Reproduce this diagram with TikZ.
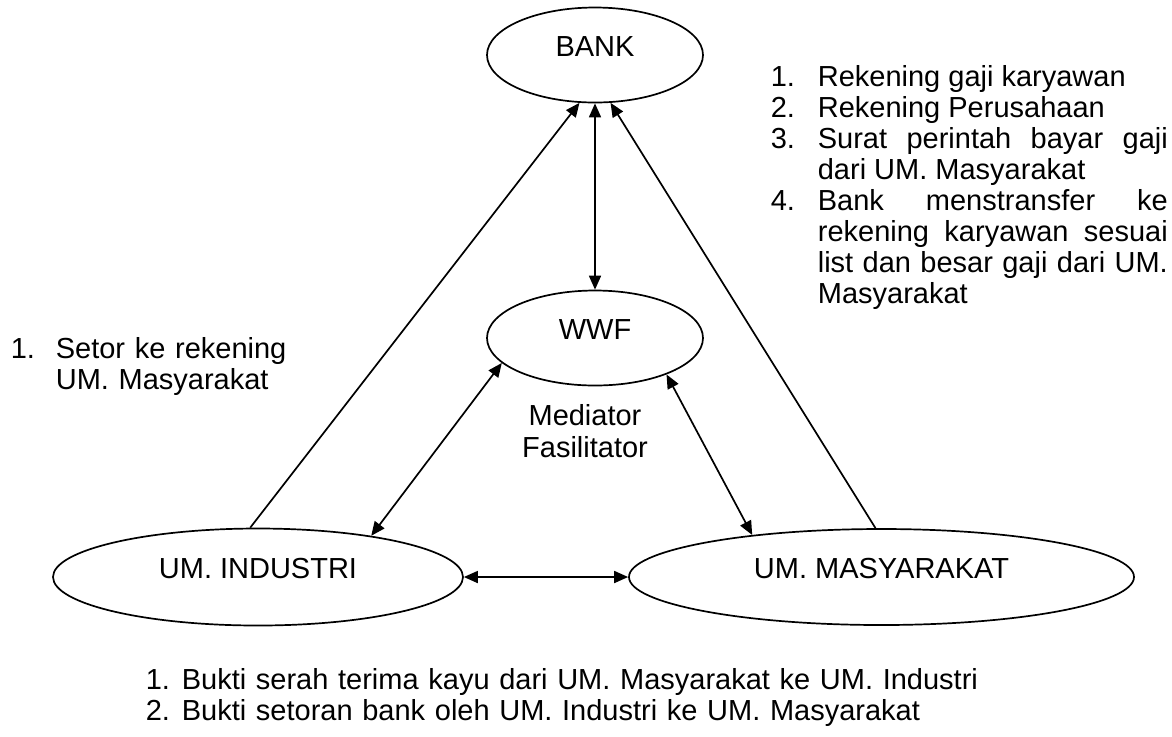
\documentclass[tikz,border=0pt]{standalone}
\usepackage{fontspec}
\setmainfont{Liberation Sans}
\usetikzlibrary{shapes.geometric,arrows.meta}
\newlength{\numwidth}
\newcommand{\numitem}[2]{\par\noindent\hangindent=\numwidth\hangafter=0
	\llap{\makebox[\numwidth][l]{#1}}#2\par}

\begin{document}
\begin{tikzpicture}[x=0.5pt,y=-0.5pt,line width=0.85pt,>={Triangle[length=7pt,width=6pt]},
	font={\fontsize{14.5pt}{16pt}\selectfont}]
	\tikzset{party/.style 2 args={draw,ellipse,inner sep=0pt,minimum width=#1,minimum height=#2,text height=5pt,text depth=4pt},
		note/.style={inner sep=0pt,anchor=north west,font={\fontsize{14.5pt}{15.5pt}\selectfont}}};
	\useasboundingbox (0,0) rectangle (1172,736);
	
	\node[party={108pt}{47.5pt}] (bank) at (595,55) {BANK};
	\node[party={108pt}{47.5pt}] (wwf) at (595,338) {WWF};
	\node[party={205pt}{48.5pt}] (ind) at (258,577) {UM. INDUSTRI};
	\node[party={252.5pt}{48pt}] (masy) at (881.5,577) {UM. MASYARAKAT};
	
	\draw[->] (ind.99)--(bank.252);
	\draw[<->] (bank.south)--(wwf.north);
	\draw[->] (masy.97)--(bank.-72);
	\draw[<->] (wwf.195)--(ind.20);
	\draw[<->] (wwf.-27)--(masy.162);
	\draw[<->] (ind.east)--(masy.west);
	
	\node[note,anchor=north,align=center,font={\fontsize{14.5pt}{16pt}\selectfont}] (med) at (585,404) {Mediator\\Fasilitator};
	
	\node[note,text width=198.5pt,align=justify] (banklist) at (770,55) {\setlength{\numwidth}{23.5pt}%
		\numitem{1.}{Rekening gaji karyawan}
		\numitem{2.}{Rekening Perusahaan}
		\numitem{3.}{Surat perintah bayar gaji\linebreak dari UM. Masyarakat}
		\numitem{4.}{Bank menstransfer ke\linebreak rekening karyawan sesuai\linebreak list dan besar gaji dari UM.\linebreak Masyarakat}};
	
	\node[note,text width=150pt,align=left] (indlist) at (10,327) {\setlength{\numwidth}{22.5pt}%
		\numitem{1.}{Setor ke rekening\newline UM. Masyarakat}};
	
	\node[note,text width=450pt,align=left] (buktilist) at (145,658) {\setlength{\numwidth}{18pt}%
		\numitem{1.}{Bukti serah terima kayu dari UM. Masyarakat ke UM. Industri}
		\numitem{2.}{Bukti setoran bank oleh UM. Industri ke UM. Masyarakat}};
\end{tikzpicture}
\end{document}
